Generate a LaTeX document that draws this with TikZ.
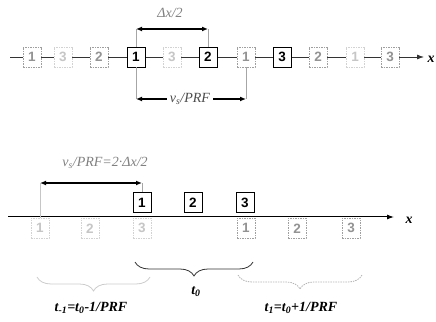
\documentclass[tikz,border=0pt]{standalone}
\usepackage{fontspec}
\setmainfont{Liberation Serif}
\newfontfamily\digitfont{Liberation Sans}
\usetikzlibrary{arrows.meta,decorations.pathreplacing}

\tikzset{
  boxnow/.style={draw=black,line width=0.9pt,fill=white,minimum width=18pt,minimum height=20pt,inner sep=0pt,font=\digitfont\bfseries\fontsize{13.5}{13.5}\selectfont},
  boxnext/.style={boxnow,draw=gray!75,text=gray!85,line width=0.7pt,dash pattern=on 1.5pt off 1pt},
  boxprev/.style={boxnow,draw=gray!35,text=gray!45,line width=0.7pt,dash pattern=on 1.5pt off 1pt},
  dimline/.style={line width=1.4pt,{Latex[length=6pt,width=5pt]}-{Latex[length=6pt,width=5pt]}},
  guide/.style={gray!70,line width=0.5pt},
  lbl/.style={font=\itshape\fontsize{14}{16}\selectfont},
  blbl/.style={font=\bfseries\itshape\fontsize{14}{16}\selectfont},
}

\begin{document}
\begin{tikzpicture}[x=1pt,y=1pt]
    \useasboundingbox (0,0) rectangle (436,321);

    % Upper track
    \coordinate (top0) at (10,264);
    \coordinate (topend) at (424,264);
    \draw[line width=0.8pt,black!80,-{Latex[length=7pt,width=5pt]}] (top0) -- (topend);
    \node[blbl,inner sep=0pt] (topx) at (431,262) {x};

    \node[boxnext] (u1) at (32,264) {1};
    \node[boxprev] (u2) at (63,264) {3};
    \node[boxnext] (u3) at (99,264) {2};
    \node[boxnow] (u4) at (136,264) {1};
    \node[boxprev] (u5) at (172,264) {3};
    \node[boxnow] (u6) at (208,264) {2};
    \node[boxnext] (u7) at (246,264) {1};
    \node[boxnow] (u8) at (282,264) {3};
    \node[boxnext] (u9) at (318,264) {2};
    \node[boxprev] (u10) at (355,264) {1};
    \node[boxnext] (u11) at (390,264) {3};

    % Delta x / 2
    \coordinate (dxlev) at (0,292);
    \draw[guide] (u4.north) -- (u4.north |- dxlev);
    \draw[guide] (u6.north) -- (u6.north |- dxlev);
    \draw[dimline] (u4.north |- dxlev) -- (u6.north |- dxlev);
    \node[lbl,text=gray] (dxlbl) at (170,308) {Δx/2};

    % vs/PRF
    \coordinate (vslev) at (0,222);
    \draw[guide] (u4.south) -- (u4.south |- vslev);
    \draw[guide] (u7.south) -- (u7.south |- vslev);
    \draw[dimline] (u4.south |- vslev) -- (u7.south |- vslev);
    \node[lbl,fill=white,text=gray!60!black,inner sep=3pt] (vslbl) at (190,222) {v\textsubscript{s}/PRF};

    % Lower axis
    \coordinate (ax0) at (8,104);
    \coordinate (axend) at (394,104);
    \draw[line width=1pt,-{Latex[length=7pt,width=5pt]}] (ax0) -- (axend);
    \node[blbl] (botx) at (409,101) {x};

    % Pulse t0 (above the axis)
    \node[boxnow,anchor=south] (c1) at (142,108) {1};
    \node[boxnow,anchor=south] (c2) at (193,108) {2};
    \node[boxnow,anchor=south] (c3) at (245,108) {3};

    % Pulse t-1 and t1 (below the axis)
    \node[boxprev,anchor=north] (p1) at (40,103) {1};
    \node[boxprev,anchor=north] (p2) at (90,103) {2};
    \node[boxprev,anchor=north] (p3) at (142,103) {3};
    \node[boxnext,anchor=north] (n1) at (246,103) {1};
    \node[boxnext,anchor=north] (n2) at (297,103) {2};
    \node[boxnext,anchor=north] (n3) at (351,103) {3};

    % vs/PRF = 2 Delta x / 2
    \coordinate (twolev) at (0,138);
    \draw[guide,gray!45] (p1.north) -- (p1.north |- twolev);
    \draw[guide] (c1.north) -- (c1.north |- twolev);
    \draw[dimline] (p1.north |- twolev) -- (c1.north |- twolev);
    \node[lbl,text=gray] (twolbl) at (105,158) {v\textsubscript{s}/PRF=2·Δx/2};

    % Braces
    \coordinate (bnowR) at (253,59);
    \coordinate (bnowL) at (135,59);
    \coordinate (bprevR) at (150,44);
    \coordinate (bprevL) at (37,44);
    \coordinate (bnextR) at (362,46);
    \coordinate (bnextL) at (238,46);
    \draw[decorate,decoration={brace,amplitude=14pt},line width=0.8pt,black!80] (bnowR) -- (bnowL);
    \draw[decorate,decoration={brace,amplitude=14pt},line width=0.8pt,gray!40] (bprevR) -- (bprevL);
    \draw[decorate,decoration={brace,amplitude=14pt},line width=0.8pt,gray!60,dash pattern=on 1.5pt off 1pt] (bnextR) -- (bnextL);

    \node[blbl] (tnow) at (196,29) {t\textsubscript{0}};
    \node[blbl] (tprev) at (91,13) {t\textsubscript{-1}=t\textsubscript{0}-1/PRF};
    \node[blbl] (tnext) at (301,13) {t\textsubscript{1}=t\textsubscript{0}+1/PRF};

\end{tikzpicture}
\end{document}
